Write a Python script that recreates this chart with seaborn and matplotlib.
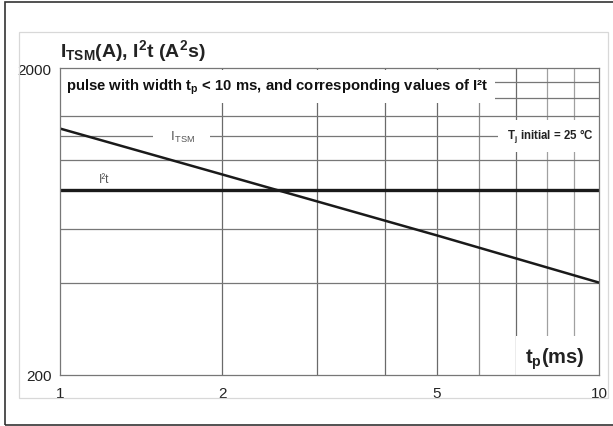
import numpy as np
import pandas as pd
import matplotlib
matplotlib.use('Agg')
import matplotlib.pyplot as plt
import matplotlib.ticker as mticker
from matplotlib.patches import Rectangle
import seaborn as sns

# surge current / I2t vs pulse width
tp_ms = [1, 2, 5, 10]
itsm_a = [1270, 900, 570, 400]
i2t_a2s = [800, 800, 800, 800]

x_ticks = [1, 2, 5, 10]
x_grid = [2, 3, 4, 5, 6, 7, 8, 9]
x_grid_colors = ['#6a6a6a', '#6a6a6a', '#6a6a6a', '#6a6a6a', '#8a8a8a', '#6a6a6a', '#a0a0a0', '#a0a0a0']
y_ticks = [200, 2000]
y_grid = [400, 600, 800, 1000, 1200, 1400, 1600, 1800]

df = pd.DataFrame({'tp': tp_ms, 'itsm': itsm_a, 'i2t': i2t_a2s})

sns.set_style('white')
plt.rcParams['font.family'] = ['Liberation Sans', 'DejaVu Sans']
plt.rcParams['mathtext.fontset'] = 'custom'
plt.rcParams['mathtext.rm'] = 'Liberation Sans'
plt.rcParams['mathtext.it'] = 'Liberation Sans'
plt.rcParams['mathtext.bf'] = 'Liberation Sans:bold'

W, H = 613, 427
fig = plt.figure(figsize=(W / 100, H / 100), dpi=100)
ax = fig.add_axes([60 / W, 1 - 376 / H, 539 / W, 307 / H])

# frames around the figure
fig.patches.append(Rectangle((5 / W, 1 - 426 / H), 620 / W, 423 / H, transform=fig.transFigure,
                             fill=False, edgecolor='#333333', lw=1.2, clip_on=False))
fig.patches.append(Rectangle((19 / W, 1 - 399 / H), 589 / W, 366 / H, transform=fig.transFigure,
                             fill=False, edgecolor='#d8d8d8', lw=0.9, clip_on=False))

ax.set_xscale('log')
ax.set_yscale('log')
ax.set_xlim(1, 10)
ax.set_ylim(200, 2000)

for xv, c in zip(x_grid, x_grid_colors):
    ax.axvline(xv, color=c, lw=0.9, zorder=1)
for yv in y_grid:
    ax.axhline(yv, color='#777777', lw=0.9, zorder=1)

sns.lineplot(data=df, x='tp', y='itsm', color='#1a1a1a', lw=1.8, ax=ax, zorder=4)
sns.lineplot(data=df, x='tp', y='i2t', color='#1a1a1a', lw=2.4, ax=ax, zorder=4)

ax.set_xticks(x_ticks)
ax.set_xticklabels([str(v) for v in x_ticks])
ax.set_yticks(y_ticks)
ax.set_yticklabels([str(v) for v in y_ticks])
ax.xaxis.set_minor_locator(mticker.NullLocator())
ax.yaxis.set_minor_locator(mticker.NullLocator())
ax.tick_params(length=0, labelsize=11, colors='#222222')
ax.tick_params(axis='x', pad=8)
ax.tick_params(axis='y', pad=6)
ax.set_xlabel('')
ax.set_ylabel('')
for s in ax.spines.values():
    s.set_color('#777777')
    s.set_linewidth(0.9)
    s.set_zorder(5)

ax.text((66 - 60) / 539, 1 - (90.5 - 69) / 307,
        r'pulse with width t$_{\mathbf{p}}$ < 10 ms, and corresponding values of I²t',
        transform=ax.transAxes, fontsize=10.7, fontweight='bold', color='#111111', va='baseline',
        bbox=dict(facecolor='white', edgecolor='none', boxstyle='square,pad=0.45'), zorder=3)
ax.text(1.68, 1200, r'    I$_{\rm TSM}$    ', fontsize=9.5, color='#555555', ha='center', va='center',
        bbox=dict(facecolor='white', edgecolor='none', pad=2), zorder=3)
ax.text(1.205, 870, 'I²t', fontsize=8.5, color='#555555', ha='center', va='center', zorder=3)
ax.text(9.8, 1200, r' T$_{\mathbf{j}}$ initial = 25 °C', fontsize=8.3, fontweight='bold', color='#222222',
        ha='right', va='center', bbox=dict(facecolor='white', edgecolor='none', pad=5), zorder=3)
ax.text(9.42, 219, r't$_{\mathbf{p}}$(ms)', fontsize=14.5, fontweight='bold', color='#222222',
        ha='right', va='baseline', bbox=dict(facecolor='white', edgecolor='none', pad=7), zorder=3)

fig.text(60 / W, 1 - 57 / H, r'I$_{\mathbf{TSM}}$(A), I$^{\mathbf{2}}$t (A$^{\mathbf{2}}$s)',
         fontsize=14, fontweight='bold', color='#222222', va='baseline')

fig.savefig('out.png', dpi=100)
